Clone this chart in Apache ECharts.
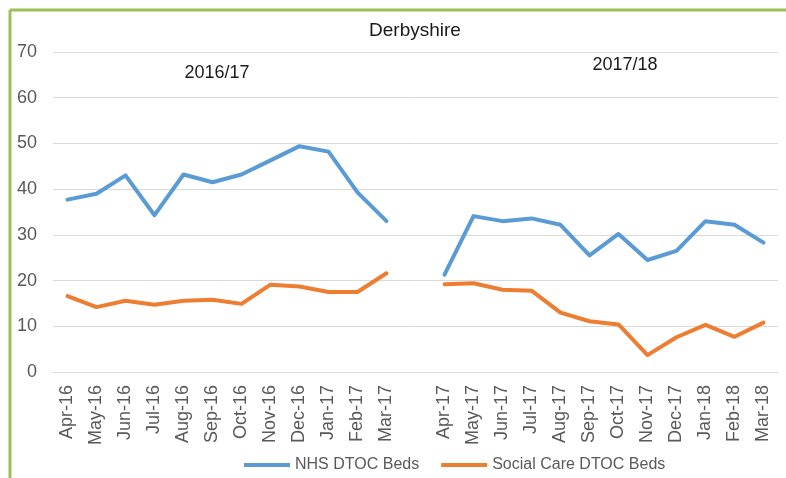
<!DOCTYPE html>
<html>
<head>
<meta charset="utf-8">
<script src="https://cdn.jsdelivr.net/npm/echarts@6/dist/echarts.min.js"></script>
<style>html,body{margin:0;padding:0;background:#fff}#c{width:786px;height:478px}</style>
</head>
<body>
<div id="c"></div>
<script>
var categories = ['Apr-16','May-16','Jun-16','Jul-16','Aug-16','Sep-16','Oct-16','Nov-16','Dec-16','Jan-17','Feb-17','Mar-17','',
  'Apr-17','May-17','Jun-17','Jul-17','Aug-17','Sep-17','Oct-17','Nov-17','Dec-17','Jan-18','Feb-18','Mar-18'];
var nhsBeds = [37.7,39.0,43.0,34.3,43.2,41.5,43.2,46.3,49.4,48.2,39.3,33.0,null,
  21.3,34.1,33.0,33.6,32.2,25.5,30.2,24.5,26.5,33.0,32.2,28.3];
var socialBeds = [16.6,14.2,15.6,14.7,15.6,15.8,14.9,19.1,18.7,17.5,17.5,21.6,null,
  19.2,19.4,18.0,17.8,13.0,11.1,10.4,3.7,7.6,10.3,7.7,10.8];
var yTicks = [0,10,20,30,40,50,60,70];
var seriesNames = ['NHS DTOC Beds','Social Care DTOC Beds'];
var chartTitle = 'Derbyshire';
var periodLabels = ['2016/17','2017/18'];

var FONT = 'Liberation Sans';
var chart = echarts.init(document.getElementById('c'));
chart.setOption({
  animation: false,
  textStyle: {fontFamily: FONT},
  grid: {left: 53, right: 8, top: 52, bottom: 106, containLabel: false},
  legend: {
    data: seriesNames, left: 239, top: 452, icon: 'rect', itemWidth: 46, itemHeight: 4, itemGap: 22,
    textStyle: {fontFamily: FONT, fontSize: 16, color: '#595959', padding: [0,0,0,0]}
  },
  xAxis: {
    type: 'category', data: categories, boundaryGap: true,
    axisLine: {lineStyle: {color: '#d9d9d9', width: 1}},
    axisTick: {show: false},
    axisLabel: {rotate: 90, interval: 0, margin: 13, fontSize: 18, color: '#595959', fontFamily: FONT}
  },
  yAxis: {
    type: 'value', min: yTicks[0], max: yTicks[yTicks.length-1], interval: 10,
    axisLine: {show: false}, axisTick: {show: false},
    axisLabel: {margin: 16, fontSize: 18, color: '#595959', fontFamily: FONT},
    splitLine: {lineStyle: {color: '#d9d9d9', width: 1}}
  },
  series: [
    {name: seriesNames[0], type: 'line', data: nhsBeds, showSymbol: false, connectNulls: false,
     lineStyle: {color: '#5B9BD5', width: 4, cap: 'round', join: 'round'}, itemStyle: {color: '#5B9BD5'}},
    {name: seriesNames[1], type: 'line', data: socialBeds, showSymbol: false, connectNulls: false,
     lineStyle: {color: '#ED7D31', width: 4, cap: 'round', join: 'round'}, itemStyle: {color: '#ED7D31'}}
  ],
  graphic: [
    {type: 'line', shape: {x1: 10, y1: 10, x2: 786, y2: 10}, style: {stroke: '#9BC15B', lineWidth: 3}},
    {type: 'line', shape: {x1: 10, y1: 10, x2: 10, y2: 478}, style: {stroke: '#9BC15B', lineWidth: 3}},
    {type: 'text', x: 415, y: 31, style: {text: chartTitle, font: '19px "' + FONT + '"', fill: '#1a1a1a', textAlign: 'center', textVerticalAlign: 'middle'}},
    {type: 'text', x: 217, y: 73, style: {text: periodLabels[0], font: '18px "' + FONT + '"', fill: '#1a1a1a', textAlign: 'center', textVerticalAlign: 'middle'}},
    {type: 'text', x: 625, y: 65, style: {text: periodLabels[1], font: '18px "' + FONT + '"', fill: '#1a1a1a', textAlign: 'center', textVerticalAlign: 'middle'}}
  ]
});
</script>
</body>
</html>
